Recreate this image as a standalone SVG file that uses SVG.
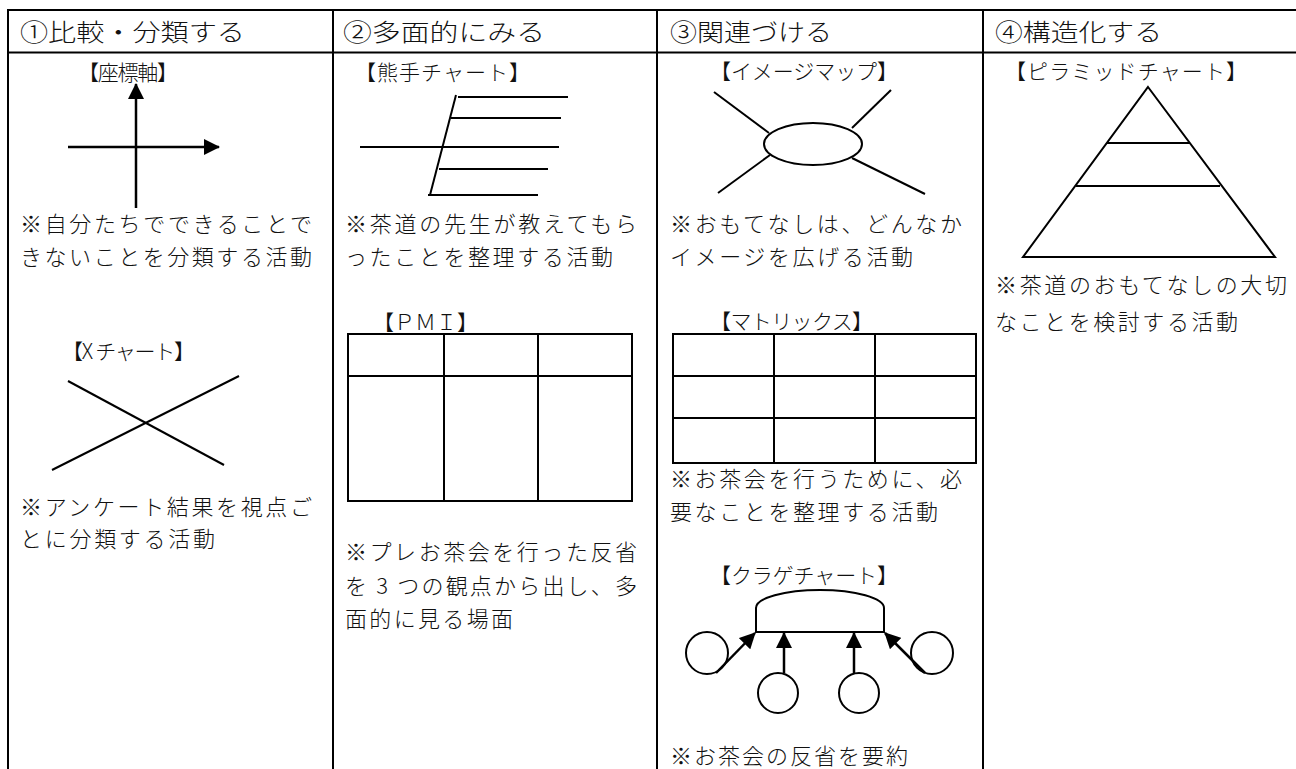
<svg xmlns="http://www.w3.org/2000/svg" width="1296" height="769" viewBox="0 0 1296 769">
<defs>
<style>
text{font-family:"Noto Sans CJK JP","Noto Sans",sans-serif;fill:#111;dominant-baseline:central;font-weight:300}
.h{font-size:24px}
.t{font-size:21px}
.b{font-size:22px}
.grid{stroke:#000;stroke-width:2;fill:none}
.ln{stroke:#000;stroke-width:2;fill:none}
.ax{stroke:#000;stroke-width:2.5;fill:none}
</style>
<marker id="ah" markerUnits="userSpaceOnUse" markerWidth="16" markerHeight="16" refX="15" refY="8" orient="auto">
<path d="M0,0 L16,8 L0,16 Z" fill="#000"/>
</marker>
</defs>
<rect width="1296" height="769" fill="#fff"/>
<g id="table" class="grid">
<line x1="8" y1="10" x2="1296" y2="10"/>
<line x1="8" y1="52.5" x2="1296" y2="52.5"/>
<line x1="8" y1="9" x2="8" y2="769"/>
<line x1="333" y1="10" x2="333" y2="769"/>
<line x1="657" y1="10" x2="657" y2="769"/>
<line x1="983" y1="10" x2="983" y2="769"/>
</g>
<g id="col1">
<text class="h" x="20" y="30" textLength="225" lengthAdjust="spacingAndGlyphs">①比較・分類する</text>
<g id="axis">
<text class="t" x="78" y="71" textLength="100">【座標軸】</text>
<line class="ax" x1="136" y1="208" x2="136" y2="84" marker-end="url(#ah)"/>
<line class="ax" x1="68" y1="147" x2="219" y2="147" marker-end="url(#ah)"/>
<text class="b" x="20" y="222" textLength="292">※自分たちでできることで</text>
<text class="b" x="20" y="255" textLength="292">きないことを分類する活動</text>
</g>
<g id="xchart">
<text class="t" x="62" y="350" textLength="133">【X チャート】</text>
<line class="ln" x1="68" y1="381" x2="224" y2="465"/>
<line class="ln" x1="52" y1="470" x2="239" y2="376"/>
<text class="b" x="20" y="505" textLength="292">※アンケート結果を視点ご</text>
<text class="b" x="20" y="537" textLength="195">とに分類する活動</text>
</g>
</g>
<g id="col2">
<text class="h" x="343" y="30" textLength="202" lengthAdjust="spacingAndGlyphs">②多面的にみる</text>
<g id="rake">
<text class="t" x="355" y="71" textLength="175">【熊手チャート】</text>
<line class="ln" x1="458" y1="97" x2="568" y2="97"/>
<line class="ln" x1="451" y1="118" x2="561" y2="118"/>
<line class="ln" x1="360" y1="147" x2="559" y2="147"/>
<line class="ln" x1="439" y1="169" x2="548" y2="169"/>
<line class="ln" x1="428" y1="195" x2="538" y2="195"/>
<line class="ln" x1="456" y1="95" x2="430" y2="195"/>
<text class="b" x="345" y="222" textLength="292">※茶道の先生が教えてもら</text>
<text class="b" x="345" y="255" textLength="268">ったことを整理する活動</text>
</g>
<g id="pmi">
<text class="t" x="373" y="321" textLength="105">【ＰＭＩ】</text>
<rect class="grid" x="348" y="334" width="284" height="167"/>
<line class="grid" x1="348" y1="376" x2="632" y2="376"/>
<line class="grid" x1="444" y1="334" x2="444" y2="501"/>
<line class="grid" x1="538" y1="334" x2="538" y2="501"/>
<text class="b" x="345" y="550" textLength="292">※プレお茶会を行った反省</text>
<text class="b" x="345" y="584" textLength="292">を 3 つの観点から出し、多</text>
<text class="b" x="345" y="617" textLength="168">面的に見る場面</text>
</g>
</g>
<g id="col3">
<text class="h" x="670" y="30" textLength="162" lengthAdjust="spacingAndGlyphs">③関連づける</text>
<g id="imagemap">
<text class="t" x="710" y="70" textLength="188">【イメージマップ】</text>
<ellipse class="ln" cx="813" cy="144" rx="49" ry="21"/>
<line class="ln" x1="714" y1="92" x2="769" y2="133"/>
<line class="ln" x1="891" y1="90" x2="852" y2="128"/>
<line class="ln" x1="770" y1="155" x2="718" y2="193"/>
<line class="ln" x1="852" y1="158" x2="925" y2="194"/>
<text class="b" x="670" y="222" textLength="292">※おもてなしは、どんなか</text>
<text class="b" x="670" y="255" textLength="243">イメージを広げる活動</text>
</g>
<g id="matrix">
<text class="t" x="710" y="320" textLength="163">【マトリックス】</text>
<rect class="grid" x="673" y="334" width="303" height="129"/>
<line class="grid" x1="673" y1="376" x2="976" y2="376"/>
<line class="grid" x1="673" y1="418" x2="976" y2="418"/>
<line class="grid" x1="774" y1="334" x2="774" y2="463"/>
<line class="grid" x1="875" y1="334" x2="875" y2="463"/>
<text class="b" x="670" y="477" textLength="292">※お茶会を行うために、必</text>
<text class="b" x="670" y="510" textLength="268">要なことを整理する活動</text>
</g>
<g id="jellyfish">
<text class="t" x="710" y="574" textLength="188">【クラゲチャート】</text>
<path class="ln" d="M756,632 V608 A64,18 0 0 1 884,608 V632 Z"/>
<circle class="ln" cx="707" cy="653" r="21"/>
<circle class="ln" cx="932" cy="653" r="21"/>
<circle class="ln" cx="778" cy="693" r="20"/>
<circle class="ln" cx="859" cy="693" r="20"/>
<text class="b" x="670" y="754" textLength="238">※お茶会の反省を要約</text>
</g>
</g>
<g id="connectors">
<line class="ax" x1="716" y1="673" x2="755" y2="633" marker-end="url(#ah)"/>
<line class="ax" x1="784" y1="673" x2="784" y2="633" marker-end="url(#ah)"/>
<line class="ax" x1="854" y1="673" x2="854" y2="633" marker-end="url(#ah)"/>
<line class="ax" x1="925" y1="673" x2="885" y2="633" marker-end="url(#ah)"/>
</g>
<g id="col4">
<text class="h" x="995" y="30" textLength="167" lengthAdjust="spacingAndGlyphs">④構造化する</text>
<g id="pyramid">
<text class="t" x="1005" y="70" textLength="242">【ピラミッドチャート】</text>
<path class="ln" d="M1148,87 L1275,257 L1023,257 Z"/>
<line class="ln" x1="1107" y1="143" x2="1190" y2="143"/>
<line class="ln" x1="1076" y1="186" x2="1220" y2="186"/>
<text class="b" x="995" y="283" textLength="292">※茶道のおもてなしの大切</text>
<text class="b" x="995" y="320" textLength="243">なことを検討する活動</text>
</g>
</g>
</svg>
